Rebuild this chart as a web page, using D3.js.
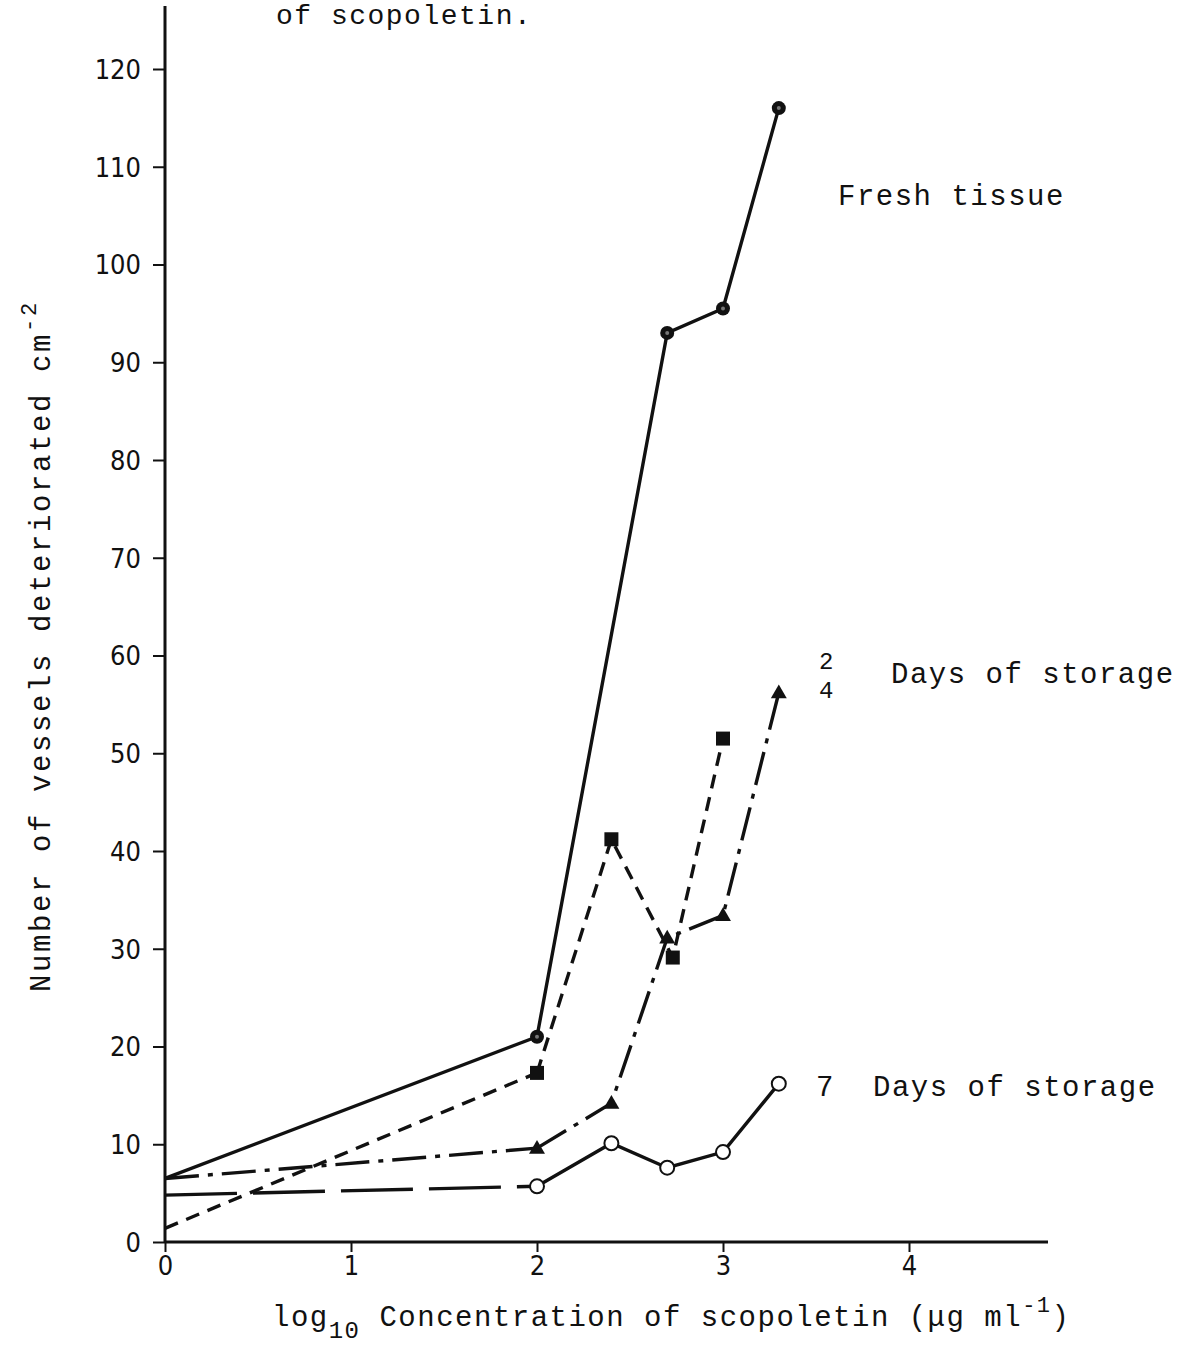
<!DOCTYPE html>
<html>
<head>
<meta charset="utf-8">
<script src="https://cdn.jsdelivr.net/npm/d3@7"></script>
<style>
  body { margin: 0; background: #fff; }
  .mono { font-family: "Liberation Mono", "DejaVu Sans Mono", monospace; fill: #111; }
  .tick text { font-family: "Liberation Sans Narrow", "DejaVu Sans Condensed", sans-serif; }
</style>
</head>
<body>
<div class="chart"></div>
<script>
// log10 concentration of scopoletin
const xFresh = [0, 2, 2.7, 3, 3.3]
const yFresh = [6.5, 21, 93, 95.5, 116]
const xDay2 = [0, 2, 2.4, 2.73, 3]
const yDay2 = [1.4, 17.3, 41.2, 29.1, 51.5]
const xDay4 = [0, 2, 2.4, 2.7, 3, 3.3]
const yDay4 = [6.5, 9.6, 14.2, 31.1, 33.4, 56.2]
const xDay7 = [0, 2, 2.4, 2.7, 3, 3.3]
const yDay7 = [4.8, 5.7, 10.1, 7.6, 9.2, 16.2]
const yTicks = [0, 10, 20, 30, 40, 50, 60, 70, 80, 90, 100, 110, 120]
const xTicks = [0, 1, 2, 3, 4]

var width = 1190
var height = 1348

var svg = d3.select('.chart').append('svg')
    .attr('width', width)
    .attr('height', height)

var xScale = d3.scaleLinear().domain([0, 4]).range([165, 909])
var yScale = d3.scaleLinear().domain([0, 120]).range([1242, 69])

// axes
const yAxis = d3.axisLeft(yScale).tickValues(yTicks).tickSize(12).tickPadding(12).tickFormat(d3.format('d'))
const xAxis = d3.axisBottom(xScale).tickValues(xTicks).tickSize(10).tickPadding(4).tickFormat(d3.format('d'))

svg.append('g').attr('class', 'yAxis').attr('transform', `translate(${xScale(0)},0)`).call(yAxis)
svg.append('g').attr('class', 'xAxis').attr('transform', `translate(0,${yScale(0)})`).call(xAxis)
svg.selectAll('.domain').remove()
svg.selectAll('.tick line').attr('stroke', '#111').attr('stroke-width', 2)
svg.selectAll('.tick text').style('font-size', '27px').attr('fill', '#111')
svg.selectAll('.yAxis .tick text').attr('dy', '0.35em')

// axis lines (y axis runs up to the top of the page, x axis past tick 4)
svg.append('line')
    .attr('x1', xScale(0)).attr('x2', xScale(0))
    .attr('y1', 6).attr('y2', yScale(0))
    .attr('stroke', '#111').attr('stroke-width', 3)
svg.append('line')
    .attr('x1', xScale(0)).attr('x2', 1048)
    .attr('y1', yScale(0)).attr('y2', yScale(0))
    .attr('stroke', '#111').attr('stroke-width', 3)

// series: first segment (from 0 to 2) and the rest may use a different dash
const series = [
    { xs: xFresh, ys: yFresh, dashFirst: null, dashRest: null, marker: 'dot' },
    { xs: xDay2, ys: yDay2, dashFirst: '14,9', dashRest: '14,9', marker: 'square' },
    { xs: xDay4, ys: yDay4, dashFirst: '34,9,5,9', dashRest: '34,9,5,9', marker: 'triangle' },
    { xs: xDay7, ys: yDay7, dashFirst: '72,16', dashRest: null, marker: 'open' }
]

let line = d3.line().x(d => xScale(d[0])).y(d => yScale(d[1]))

series.forEach((s) => {
    const pts = s.xs.map((x, i) => [x, s.ys[i]])
    svg.append('path')
        .attr('d', line(pts.slice(0, 2)))
        .attr('fill', 'none')
        .attr('stroke', '#111')
        .attr('stroke-width', 3.4)
        .attr('stroke-dasharray', s.dashFirst)
    svg.append('path')
        .attr('d', line(pts.slice(1)))
        .attr('fill', 'none')
        .attr('stroke', '#111')
        .attr('stroke-width', 3.4)
        .attr('stroke-dasharray', s.dashRest)

    // markers, no marker at x = 0
    const marks = svg.append('g').selectAll().data(pts.slice(1)).enter()
    if (s.marker == 'dot') {
        marks.append('circle')
            .attr('cx', d => xScale(d[0])).attr('cy', d => yScale(d[1]))
            .attr('r', 7).attr('fill', '#111')
        marks.append('circle')
            .attr('cx', d => xScale(d[0])).attr('cy', d => yScale(d[1]))
            .attr('r', 2).attr('fill', '#777')
    }
    if (s.marker == 'square') {
        marks.append('rect')
            .attr('x', d => xScale(d[0]) - 7).attr('y', d => yScale(d[1]) - 7)
            .attr('width', 14).attr('height', 14).attr('fill', '#111')
    }
    if (s.marker == 'triangle') {
        marks.append('path')
            .attr('d', d3.symbol(d3.symbolTriangle, 110))
            .attr('transform', d => `translate(${xScale(d[0])},${yScale(d[1]) + 1})`)
            .attr('fill', '#111')
    }
    if (s.marker == 'open') {
        marks.append('circle')
            .attr('cx', d => xScale(d[0])).attr('cy', d => yScale(d[1]))
            .attr('r', 7).attr('fill', '#fff')
            .attr('stroke', '#111').attr('stroke-width', 2)
    }
})

// labels
function label(x, y, txt, size) {
    return svg.append('text').attr('class', 'mono')
        .attr('x', x).attr('y', y)
        .style('font-size', (size || 29) + 'px')
        .style('letter-spacing', '1.5px')
        .text(txt)
}
label(276, 24, 'of scopoletin.', 28)
label(838, 205, 'Fresh tissue')
label(819, 669, '2', 24)
label(819, 698, '4', 24)
label(891, 683, 'Days of storage')
label(816, 1096, '7')
label(873, 1096, 'Days of storage')

// x axis title with subscript and superscript
const xt = svg.append('text').attr('class', 'mono')
    .attr('x', 272).attr('y', 1326)
    .style('font-size', '29px').style('letter-spacing', '1.5px')
xt.append('tspan').text('log')
xt.append('tspan').attr('dy', 12).style('font-size', '24px').text('10')
xt.append('tspan').attr('dy', -12).text(' Concentration of scopoletin (\u03bcg ml')
xt.append('tspan').attr('dy', -14).style('font-size', '22px').text('-1')
xt.append('tspan').attr('dy', 14).text(')')

// y axis title
const yt = svg.append('text').attr('class', 'mono')
    .attr('transform', 'translate(50,992) rotate(-90)')
    .style('font-size', '29px').style('letter-spacing', '2.6px')
yt.append('tspan').text('Number of vessels deteriorated cm')
yt.append('tspan').attr('dy', -14).style('font-size', '22px').text('-2')
</script>
</body>
</html>
